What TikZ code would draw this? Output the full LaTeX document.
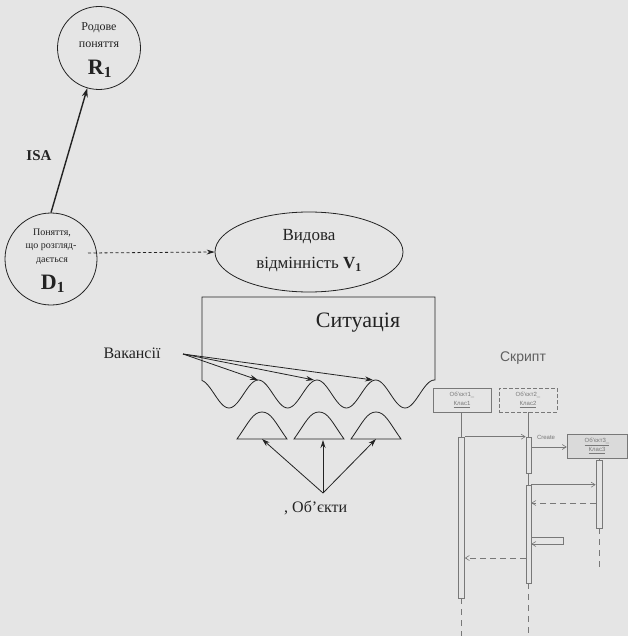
\documentclass[tikz,border=0pt]{standalone}
\usepackage{fontspec}
\setmainfont{Liberation Serif}
\newfontfamily\sansf{Liberation Sans}
\usetikzlibrary{arrows.meta,shapes.geometric}
\definecolor{bg}{RGB}{229,229,229}
\definecolor{ink}{RGB}{35,35,35}
\definecolor{seqc}{RGB}{120,120,120}
\definecolor{seqfill}{RGB}{218,218,218}
\tikzset{
  fs/.style={font=\fontsize{#1}{#1}\selectfont},
  fsb/.style={font=\fontsize{#1}{#1}\selectfont\bfseries},
  ln/.style={draw=ink, line width=0.8pt},
  arr/.style={ln, -{Stealth[length=8pt,width=5pt]}},
  txt/.style={text=ink, inner sep=0pt},
  seqbox/.style={draw=seqc, fill=seqfill, line width=0.5pt, minimum width=58pt, minimum height=24pt, inner sep=0pt, align=center, text=seqc, font=\sansf\fontsize{6}{9}\selectfont},
  bar/.style={draw=seqc, fill=bg, line width=0.6pt, minimum width=6pt, inner sep=0pt},
  sl/.style={draw=seqc, line width=0.6pt},
  msg/.style={sl, -{Straight Barb[length=4pt,width=5pt]}},
  ret/.style={sl, dash pattern=on 6pt off 4pt, -{Straight Barb[length=4pt,width=5pt]}},
  life/.style={sl, dash pattern=on 6pt off 5pt}
}
\begin{document}
\begin{tikzpicture}[x=1pt,y=-1pt]
\useasboundingbox (0,0) rectangle (628,636);
\fill[bg] (0,0) rectangle (628,636);

% R1
\node[circle, ln, minimum size=83pt, inner sep=0pt] (R) at (99,48) {};
\node[txt, fs=12] (Rt1) at (99,28) {Родове};
\node[txt, fs=12] (Rt2) at (99,45) {поняття};
\node[txt, fsb=22] (Rt3) at (100,69) {R\textsubscript{1}};

% D1
\node[circle, ln, minimum size=92pt, inner sep=0pt] (D) at (51,259) {};
\node[txt, fs=10] (Dt1) at (52,233) {Поняття,};
\node[txt, fs=10] (Dt2) at (51,247) {що розгляд-};
\node[txt, fs=10] (Dt3) at (52,261) {дається};
\node[txt, fsb=22] (Dt4) at (53,284) {D\textsubscript{1}};

% ISA
\draw[ln, line width=1.4pt, -{Stealth[length=9pt,width=6pt]}] (D.north) -- (R);
\node[txt, fsb=15] (isa) at (39,156) {ISA};

% V1 ellipse
\node[ellipse, ln, minimum width=188pt, minimum height=80pt, inner sep=0pt] (V) at (309,252) {};
\node[txt, fs=17] (Vt1) at (309,237) {Видова};
\node[txt, fs=17] (Vt2) at (309,265) {відмінність \textbf{V\textsubscript{1}}};
\coordinate (dstart) at (88,253);
\draw[ln, dash pattern=on 3pt off 2.5pt, -{Stealth[length=8pt,width=5pt]}] (dstart) -- (V.west);

% Situation
\draw[ln] (202,297) -- (435,297) -- (435,380)
  -- plot[domain=434.4:202, samples=120, smooth] (\x, {394-14*cos(deg(2*pi*(\x-258.3)/58.7))})
  -- cycle;
\node[txt, fs=22] (sit) at (358,323) {Ситуація};

% peaks of wave (vacancies)
\coordinate (p1) at (258,380);
\coordinate (p2) at (314,380);
\coordinate (p3) at (373,380);
\node[txt, fs=16] (vac) at (132,353) {Вакансії};
\coordinate (vs) at (183,354);
\draw[arr] (vs) -- (p1);
\draw[arr] (vs) -- (p2);
\draw[arr] (vs) -- (p3);

% objects (humps)
\foreach \c/\n in {262/h1, 319/h2, 376/h3}{
  \draw[ln] (\c-25,439) .. controls (\c-13,422) and (\c-9,412) .. (\c,412)
     .. controls (\c+9,412) and (\c+13,422) .. (\c+25,439) -- cycle;
  \coordinate (\n) at (\c,439);
}
\coordinate (os) at (323,493);
\draw[arr] (os) -- (h1);
\draw[arr] (os) -- (323,440);
\draw[arr] (os) -- (h3);
\node[txt, fs=16, anchor=west] (obj) at (284,508) {, Об’єкти};

% Script (sequence diagram)
\node[text=seqc!80!black, inner sep=0pt, font=\sansf\fontsize{14}{14}\selectfont] (scr) at (523,358) {Скрипт};
\node[seqbox, fill=bg] (O1) at (462,400) {Об’єкт1\_\\\underline{Клас1}};
\node[seqbox, fill=bg, dash pattern=on 4pt off 2pt] (O2) at (528,400) {Об’єкт2\_\\\underline{Клас2}};
\node[seqbox, minimum width=60pt] (O3) at (597,446) {\underline{Об’єкт3\_}\\\underline{Клас3}};

\node[bar, minimum height=161pt] (a1) at (461.5,517.5) {};
\node[bar, minimum height=36pt, minimum width=5pt] (a2) at (528.5,455) {};
\node[bar, minimum height=98pt, minimum width=5pt] (a3) at (528.5,534) {};
\node[bar, minimum height=68pt] (a4) at (599,494) {};

\draw[sl] (O1.south -| a1) -- (a1.north);
\draw[life] (a1.south) -- (461.5,636);
\draw[sl] (O2.south -| a2) -- (a2.north);
\draw[sl] (a2.south) -- (a3.north);
\draw[life] (a3.south) -- (528.5,636);
\draw[sl] (O3.south -| a4) -- (a4.north);
\draw[life] (a4.south) -- (599,567);

\draw[msg] (a1.north east) -- (a2.north west);
\coordinate (c1) at (531,447);
\draw[msg] (c1) -- (c1 -| O3.west);
\node[text=seqc, inner sep=0pt, font=\sansf\fontsize{6}{6}\selectfont] (cr) at (546,437) {Create};
\draw[msg] (a3.north east) -- (a3.north east -| a4.west);
\coordinate (r1) at (596,503);
\draw[ret] (r1) -- (r1 -| a3.east);
\coordinate (s1) at (531,537);
\coordinate (s2) at (563,537);
\coordinate (s3) at (563,544);
\draw[msg] (s1) -- (s2) -- (s3) -- (s3 -| a3.east);
\coordinate (r2) at (526,558);
\draw[ret] (r2) -- (r2 -| a1.east);
\end{tikzpicture}
\end{document}
